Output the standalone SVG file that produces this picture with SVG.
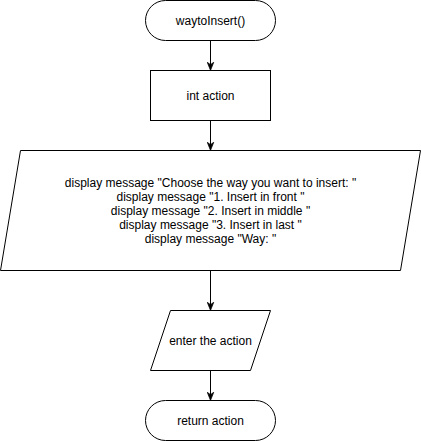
<svg xmlns="http://www.w3.org/2000/svg" width="421" height="441" viewBox="0 0 421 441">
<style>
.s{fill:#fff;stroke:#000;stroke-width:1}
.t{font-family:"Liberation Sans",Arial,Helvetica,sans-serif;font-size:12px;fill:#000;text-anchor:middle;dominant-baseline:central}
.c{stroke:#000;stroke-width:1;fill:none}
</style>
<defs>
<marker id="a" viewBox="0 0 10 10" refX="9" refY="5" markerWidth="8" markerHeight="8" markerUnits="userSpaceOnUse" orient="auto">
<path d="M0,1 L10,5 L0,9 L3,5 Z" fill="#000" stroke="#000" stroke-width="1"/>
</marker>
</defs>
<rect width="421" height="441" fill="#fff"/>
<g id="connectors">
<path class="c" d="M210.5,40.5 V69.5" marker-end="url(#a)"/>
<path class="c" d="M210.5,120.5 V149.5" marker-end="url(#a)"/>
<path class="c" d="M210.5,270.5 V309.5" marker-end="url(#a)"/>
<path class="c" d="M210.5,370.5 V399.5" marker-end="url(#a)"/>
</g>
<g id="start">
<rect class="s" x="145.5" y="0.5" width="130" height="40" rx="20" ry="20"/>
<text class="t" x="210.5" y="21">waytoInsert()</text>
</g>
<g id="decl">
<rect class="s" x="150.5" y="70.5" width="120" height="50"/>
<text class="t" x="210.5" y="96">int action</text>
</g>
<g id="display">
<polygon class="s" points="20.5,150.5 420.5,150.5 400.5,270.5 0.5,270.5"/>
<text class="t" x="210.5" y="183">display message "Choose the way you want to insert: "</text>
<text class="t" x="210.5" y="197">display message "1. Insert in front "</text>
<text class="t" x="210.5" y="211">display message "2. Insert in middle "</text>
<text class="t" x="210.5" y="225">display message "3. Insert in last "</text>
<text class="t" x="210.5" y="239">display message "Way: "</text>
</g>
<g id="input">
<polygon class="s" points="170.5,310.5 270.5,310.5 250.5,370.5 150.5,370.5"/>
<text class="t" x="210.5" y="341">enter the action</text>
</g>
<g id="end">
<rect class="s" x="145.5" y="400.5" width="130" height="40" rx="20" ry="20"/>
<text class="t" x="210.5" y="421">return action</text>
</g>
</svg>
